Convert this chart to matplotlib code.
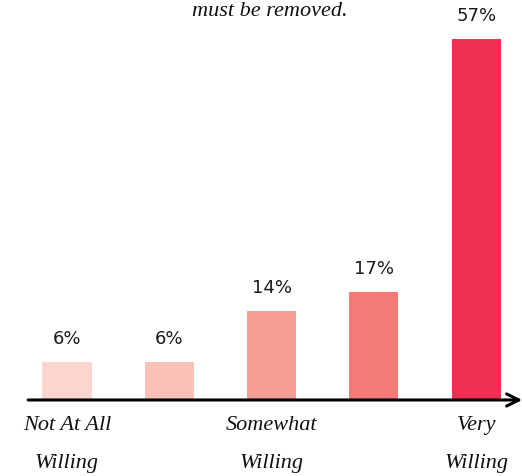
import matplotlib
matplotlib.use("Agg")
import matplotlib.pyplot as plt

categories = ["1", "2", "3", "4", "5"]
values = [6, 6, 14, 17, 57]
value_labels = ["6%", "6%", "14%", "17%", "57%"]
colors = ["#FCD5CE", "#FBC1B9", "#F59E96", "#F47A78", "#EE3152"]
tick_positions = [0, 2, 4]
tick_labels = ["Not At All\nWilling", "Somewhat\nWilling", "Very\nWilling"]
title_text = "must be removed."

fig = plt.figure(figsize=(5.22, 4.77), dpi=100)
ax = fig.add_axes([0, 0, 1, 1])
ax.set_xlim(-0.655, 4.448)
ax.set_ylim(-12.0, 63.3)
ax.axis("off")

x = list(range(len(values)))
ax.bar(x, values, width=0.48, color=colors)

for xi, v, lab in zip(x, values, value_labels):
    ax.annotate(lab, (xi, v), xytext=(0, 24), textcoords="offset pixels",
                ha="center", va="center", fontsize=13, family="DejaVu Sans", color="#1a1a1a")

# axis line with arrow
ax.annotate("", xy=(4.45, 0), xytext=(-0.38, 0),
            arrowprops=dict(arrowstyle="->", color="black", lw=2.2, mutation_scale=22,
                            shrinkA=0, shrinkB=0))

for tp, tl in zip(tick_positions, tick_labels):
    l1, l2 = tl.split("\n")
    ax.annotate(l1, (tp, 0), xytext=(0, -25), textcoords="offset pixels", ha="center", va="center",
                fontsize=16, family="Liberation Serif", style="italic", color="#111111")
    ax.annotate(l2, (tp, 0), xytext=(0, -63), textcoords="offset pixels", ha="center", va="center",
                fontsize=16, family="Liberation Serif", style="italic", color="#111111")

fig.text(0.517, 1 - 12 / 477, title_text, ha="center", va="center", fontsize=16,
         family="Liberation Serif", style="italic", color="#111111")

fig.savefig("out.png", dpi=100, facecolor="white")
